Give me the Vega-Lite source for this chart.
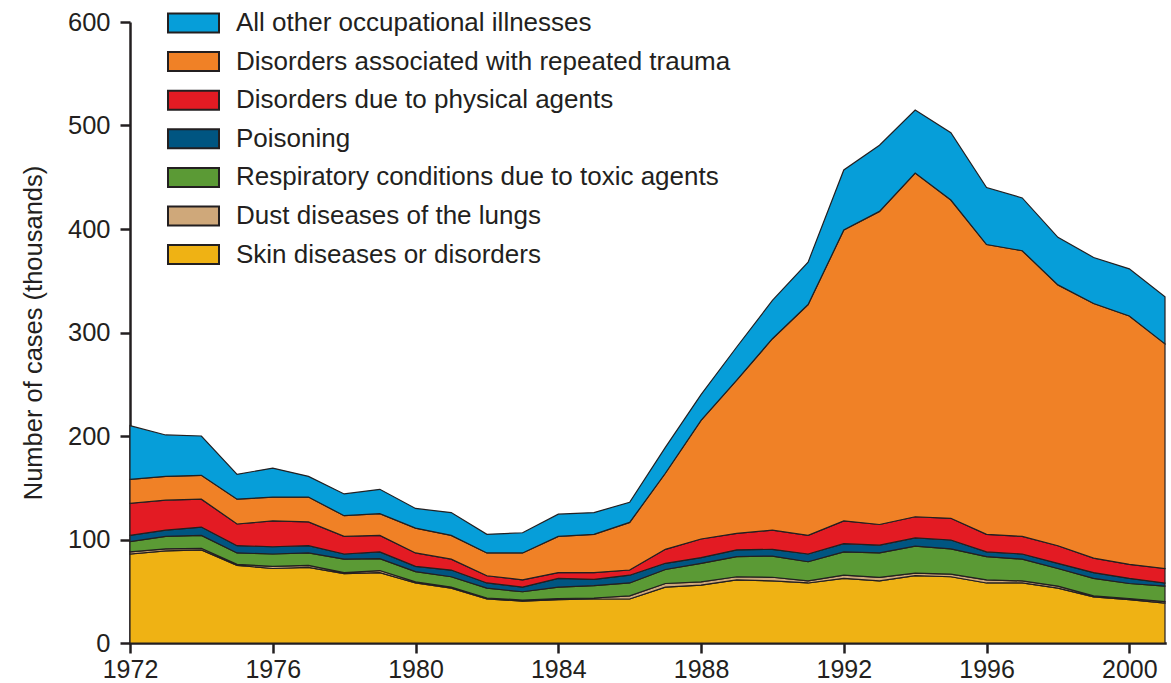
{
  "$schema": "https://vega.github.io/schema/vega-lite/v6.json",
  "autosize": {"type": "none"},
  "padding": {"left": 130, "top": 22, "right": 5, "bottom": 40},
  "width": 1035,
  "height": 621,
  "background": "white",
  "config": {
    "view": {"stroke": null},
    "font": "Liberation Sans"
  },
  "datasets": {
    "cases": [
      {"year": 1972, "Skin diseases or disorders": 86, "Dust diseases of the lungs": 2, "Respiratory conditions due to toxic agents": 10, "Poisoning": 6, "Disorders due to physical agents": 31, "Disorders associated with repeated trauma": 23, "All other occupational illnesses": 52},
      {"year": 1973, "Skin diseases or disorders": 89, "Dust diseases of the lungs": 2, "Respiratory conditions due to toxic agents": 12, "Poisoning": 6, "Disorders due to physical agents": 29, "Disorders associated with repeated trauma": 23, "All other occupational illnesses": 40},
      {"year": 1974, "Skin diseases or disorders": 90, "Dust diseases of the lungs": 1.5, "Respiratory conditions due to toxic agents": 12.5, "Poisoning": 8, "Disorders due to physical agents": 27, "Disorders associated with repeated trauma": 23, "All other occupational illnesses": 38},
      {"year": 1975, "Skin diseases or disorders": 75, "Dust diseases of the lungs": 1, "Respiratory conditions due to toxic agents": 11, "Poisoning": 7, "Disorders due to physical agents": 21, "Disorders associated with repeated trauma": 24, "All other occupational illnesses": 24},
      {"year": 1976, "Skin diseases or disorders": 72, "Dust diseases of the lungs": 2, "Respiratory conditions due to toxic agents": 12, "Poisoning": 7, "Disorders due to physical agents": 25, "Disorders associated with repeated trauma": 23, "All other occupational illnesses": 28},
      {"year": 1977, "Skin diseases or disorders": 73, "Dust diseases of the lungs": 2, "Respiratory conditions due to toxic agents": 12, "Poisoning": 7, "Disorders due to physical agents": 23, "Disorders associated with repeated trauma": 24, "All other occupational illnesses": 20},
      {"year": 1978, "Skin diseases or disorders": 67, "Dust diseases of the lungs": 1, "Respiratory conditions due to toxic agents": 13, "Poisoning": 5, "Disorders due to physical agents": 17, "Disorders associated with repeated trauma": 20, "All other occupational illnesses": 21},
      {"year": 1979, "Skin diseases or disorders": 68, "Dust diseases of the lungs": 2, "Respiratory conditions due to toxic agents": 11.5, "Poisoning": 6.5, "Disorders due to physical agents": 16, "Disorders associated with repeated trauma": 21, "All other occupational illnesses": 23.5},
      {"year": 1980, "Skin diseases or disorders": 58, "Dust diseases of the lungs": 1, "Respiratory conditions due to toxic agents": 10, "Poisoning": 5, "Disorders due to physical agents": 13, "Disorders associated with repeated trauma": 24, "All other occupational illnesses": 19},
      {"year": 1981, "Skin diseases or disorders": 53, "Dust diseases of the lungs": 1, "Respiratory conditions due to toxic agents": 10, "Poisoning": 6.5, "Disorders due to physical agents": 10.5, "Disorders associated with repeated trauma": 23, "All other occupational illnesses": 22},
      {"year": 1982, "Skin diseases or disorders": 42.5, "Dust diseases of the lungs": 1, "Respiratory conditions due to toxic agents": 9.5, "Poisoning": 5, "Disorders due to physical agents": 7, "Disorders associated with repeated trauma": 22, "All other occupational illnesses": 18},
      {"year": 1983, "Skin diseases or disorders": 40.5, "Dust diseases of the lungs": 1, "Respiratory conditions due to toxic agents": 8, "Poisoning": 4.5, "Disorders due to physical agents": 7, "Disorders associated with repeated trauma": 26, "All other occupational illnesses": 19.5},
      {"year": 1984, "Skin diseases or disorders": 42, "Dust diseases of the lungs": 1, "Respiratory conditions due to toxic agents": 11, "Poisoning": 8.5, "Disorders due to physical agents": 5.5, "Disorders associated with repeated trauma": 35, "All other occupational illnesses": 21.5},
      {"year": 1985, "Skin diseases or disorders": 42.5, "Dust diseases of the lungs": 1, "Respiratory conditions due to toxic agents": 12, "Poisoning": 6, "Disorders due to physical agents": 6.5, "Disorders associated with repeated trauma": 37, "All other occupational illnesses": 21},
      {"year": 1986, "Skin diseases or disorders": 42.5, "Dust diseases of the lungs": 3, "Respiratory conditions due to toxic agents": 12.5, "Poisoning": 7.5, "Disorders due to physical agents": 5, "Disorders associated with repeated trauma": 46, "All other occupational illnesses": 19.5},
      {"year": 1987, "Skin diseases or disorders": 54, "Dust diseases of the lungs": 3.5, "Respiratory conditions due to toxic agents": 13.5, "Poisoning": 6, "Disorders due to physical agents": 13.5, "Disorders associated with repeated trauma": 73.5, "All other occupational illnesses": 25},
      {"year": 1988, "Skin diseases or disorders": 56, "Dust diseases of the lungs": 3, "Respiratory conditions due to toxic agents": 18, "Poisoning": 5.5, "Disorders due to physical agents": 18, "Disorders associated with repeated trauma": 114.5, "All other occupational illnesses": 25},
      {"year": 1989, "Skin diseases or disorders": 61, "Dust diseases of the lungs": 3, "Respiratory conditions due to toxic agents": 19.5, "Poisoning": 6.5, "Disorders due to physical agents": 16, "Disorders associated with repeated trauma": 148, "All other occupational illnesses": 32},
      {"year": 1990, "Skin diseases or disorders": 60, "Dust diseases of the lungs": 3.5, "Respiratory conditions due to toxic agents": 20.5, "Poisoning": 6.5, "Disorders due to physical agents": 18.5, "Disorders associated with repeated trauma": 185, "All other occupational illnesses": 37},
      {"year": 1991, "Skin diseases or disorders": 58, "Dust diseases of the lungs": 2, "Respiratory conditions due to toxic agents": 18.5, "Poisoning": 7.5, "Disorders due to physical agents": 18, "Disorders associated with repeated trauma": 223, "All other occupational illnesses": 41},
      {"year": 1992, "Skin diseases or disorders": 62.5, "Dust diseases of the lungs": 3, "Respiratory conditions due to toxic agents": 22.5, "Poisoning": 8, "Disorders due to physical agents": 22, "Disorders associated with repeated trauma": 281, "All other occupational illnesses": 58},
      {"year": 1993, "Skin diseases or disorders": 60, "Dust diseases of the lungs": 3.5, "Respiratory conditions due to toxic agents": 23.5, "Poisoning": 7.5, "Disorders due to physical agents": 20, "Disorders associated with repeated trauma": 302.5, "All other occupational illnesses": 64},
      {"year": 1994, "Skin diseases or disorders": 65, "Dust diseases of the lungs": 2.5, "Respiratory conditions due to toxic agents": 26, "Poisoning": 8, "Disorders due to physical agents": 20.5, "Disorders associated with repeated trauma": 332, "All other occupational illnesses": 61},
      {"year": 1995, "Skin diseases or disorders": 64, "Dust diseases of the lungs": 2.5, "Respiratory conditions due to toxic agents": 24.5, "Poisoning": 8.5, "Disorders due to physical agents": 21, "Disorders associated with repeated trauma": 307.5, "All other occupational illnesses": 65},
      {"year": 1996, "Skin diseases or disorders": 58, "Dust diseases of the lungs": 3, "Respiratory conditions due to toxic agents": 22.5, "Poisoning": 4.5, "Disorders due to physical agents": 17, "Disorders associated with repeated trauma": 280, "All other occupational illnesses": 55},
      {"year": 1997, "Skin diseases or disorders": 58, "Dust diseases of the lungs": 2, "Respiratory conditions due to toxic agents": 21, "Poisoning": 5, "Disorders due to physical agents": 17, "Disorders associated with repeated trauma": 276, "All other occupational illnesses": 51},
      {"year": 1998, "Skin diseases or disorders": 53, "Dust diseases of the lungs": 2, "Respiratory conditions due to toxic agents": 17, "Poisoning": 5, "Disorders due to physical agents": 17, "Disorders associated with repeated trauma": 252, "All other occupational illnesses": 46},
      {"year": 1999, "Skin diseases or disorders": 44.5, "Dust diseases of the lungs": 1, "Respiratory conditions due to toxic agents": 17, "Poisoning": 5.5, "Disorders due to physical agents": 14, "Disorders associated with repeated trauma": 246, "All other occupational illnesses": 44.5},
      {"year": 2000, "Skin diseases or disorders": 42, "Dust diseases of the lungs": 1, "Respiratory conditions due to toxic agents": 14.5, "Poisoning": 5, "Disorders due to physical agents": 13.5, "Disorders associated with repeated trauma": 240, "All other occupational illnesses": 45.5},
      {"year": 2001, "Skin diseases or disorders": 38.5, "Dust diseases of the lungs": 1.5, "Respiratory conditions due to toxic agents": 15, "Poisoning": 3, "Disorders due to physical agents": 14, "Disorders associated with repeated trauma": 217, "All other occupational illnesses": 45.5}
    ],
    "cats": [
      {"category": "Skin diseases or disorders", "rank": 1},
      {"category": "Dust diseases of the lungs", "rank": 2},
      {"category": "Respiratory conditions due to toxic agents", "rank": 3},
      {"category": "Poisoning", "rank": 4},
      {"category": "Disorders due to physical agents", "rank": 5},
      {"category": "Disorders associated with repeated trauma", "rank": 6},
      {"category": "All other occupational illnesses", "rank": 7}
    ]
  },
  "data": {"name": "cases"},
  "transform": [
    {"fold": ["Skin diseases or disorders", "Dust diseases of the lungs", "Respiratory conditions due to toxic agents", "Poisoning", "Disorders due to physical agents", "Disorders associated with repeated trauma", "All other occupational illnesses"], "as": ["category", "value"]},
    {"lookup": "category", "from": {"data": {"name": "cats"}, "key": "category", "fields": ["rank"]}}
  ],
  "mark": {"type": "area", "stroke": "#231f20", "strokeWidth": 1.2, "strokeJoin": "miter"},
  "encoding": {
    "x": {
      "field": "year", "type": "quantitative",
      "scale": {"domain": [1972, 2001], "nice": false, "zero": false},
      "axis": {
        "title": null, "values": [1972, 1976, 1980, 1984, 1988, 1992, 1996, 2000],
        "format": "d", "grid": false,
        "domainColor": "#231f20", "domainWidth": 2.5, "domainCap": "square",
        "tickColor": "#231f20", "tickWidth": 2.5, "tickSize": 10,
        "labelFont": "Liberation Sans", "labelFontSize": 25, "labelColor": "#231f20", "labelPadding": 4,
        "labelFlush": false, "labelOverlap": false
      }
    },
    "y": {
      "field": "value", "type": "quantitative", "stack": "zero",
      "scale": {"domain": [0, 600], "nice": false},
      "axis": {
        "title": "Number of cases (thousands)", "values": [0, 100, 200, 300, 400, 500, 600],
        "grid": false,
        "domainColor": "#231f20", "domainWidth": 2.5,
        "tickColor": "#231f20", "tickWidth": 2.5, "tickSize": 10,
        "labelFont": "Liberation Sans", "labelFontSize": 25.5, "labelColor": "#231f20", "labelPadding": 10,
        "titleFont": "Liberation Sans", "titleFontSize": 25.5, "titleFontWeight": "normal", "titleColor": "#231f20", "titlePadding": 21
      }
    },
    "color": {
      "field": "category", "type": "nominal",
      "scale": {
        "domain": ["All other occupational illnesses", "Disorders associated with repeated trauma", "Disorders due to physical agents", "Poisoning", "Respiratory conditions due to toxic agents", "Dust diseases of the lungs", "Skin diseases or disorders"],
        "range": ["#069ed9", "#f08126", "#e31b23", "#005581", "#5b9a35", "#cfa87a", "#efb214"]
      },
      "legend": {
        "title": null, "orient": "none", "legendX": 43.5, "legendY": -19,
        "symbolType": "M-1.342,-0.5H1.342V0.5H-1.342Z", "symbolSize": 1444,
        "symbolStrokeColor": "#231f20", "symbolStrokeWidth": 2, "symbolOpacity": 1, "symbolFillOpacity": 1,
        "labelFont": "Liberation Sans", "labelFontSize": 26, "labelColor": "#231f20", "labelLimit": 800,
        "labelOffset": 22.5, "rowPadding": 4.6
      }
    },
    "order": {"field": "rank", "type": "quantitative", "sort": "ascending"}
  }
}
